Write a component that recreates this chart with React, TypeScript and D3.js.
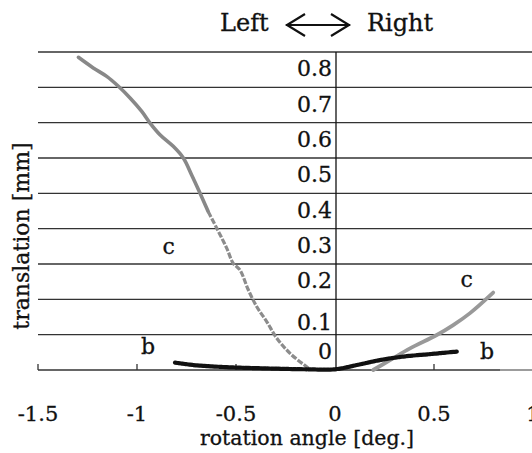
import React from 'react';
import * as d3 from 'd3';

// ---- data ----
const xTicks = [-1.5, -1, -0.5, 0, 0.5, 1];
const yTickLabels = [0, 0.1, 0.2, 0.3, 0.4, 0.5, 0.6, 0.7, 0.8];
const gridValues = [0.1, 0.2, 0.3, 0.4, 0.5, 0.6, 0.7, 0.8, 0.9];

const cLeftX = [-1.296, -1.221, -1.153, -1.094, -1.035, -0.976, -0.934, -0.884, -0.817, -0.766, -0.724, -0.682, -0.64, -0.597, -0.547, -0.514, -0.48, -0.438, -0.395, -0.345, -0.294, -0.227, -0.143, -0.126];
const cLeftY = [0.885, 0.855, 0.831, 0.803, 0.77, 0.732, 0.699, 0.666, 0.633, 0.6, 0.552, 0.501, 0.448, 0.401, 0.345, 0.302, 0.283, 0.227, 0.179, 0.137, 0.09, 0.047, 0.009, 0.002];

const cRightX = [0.193, 0.278, 0.379, 0.514, 0.597, 0.682, 0.799];
const cRightY = [0.0, 0.028, 0.061, 0.099, 0.127, 0.161, 0.219];

const bX = [-0.808, -0.716, -0.547, -0.379, -0.143, 0.0, 0.11, 0.227, 0.345, 0.48, 0.615];
const bY = [0.021, 0.014, 0.008, 0.005, 0.002, 0.002, 0.014, 0.028, 0.038, 0.045, 0.052];

const annotations = [
  { text: 'c', x: -0.84, y: 0.35 },
  { text: 'c', x: 0.665, y: 0.255 },
  { text: 'b', x: -0.944, y: 0.067 },
  { text: 'b', x: 0.768, y: 0.052 },
];

const W = 532;
const H = 453;
const FONT = '"DejaVu Serif", serif';
const INK = '#111';

export default function App() {
  const x = d3.scaleLinear().domain([-1.5, 1]).range([38, 533]);
  const y = d3.scaleLinear().domain([0, 0.9]).range([370, 52]);

  const toPts = (xs: number[], ys: number[]) => xs.map((v, i) => [v, ys[i]] as [number, number]);
  const line = d3
    .line<[number, number]>()
    .x((d) => x(d[0]))
    .y((d) => y(d[1]))
    .curve(d3.curveCatmullRom.alpha(0.5));

  const cLeftPts = toPts(cLeftX, cLeftY);
  const cLeftUpper = line(cLeftPts.slice(0, 13)) || '';
  const cLeftLower = line(cLeftPts.slice(12)) || '';
  const cRight = line(toPts(cRightX, cRightY)) || '';
  const bPath = line(toPts(bX, bY)) || '';

  const x0 = x(0);
  const textProps = { fill: INK, stroke: INK, strokeWidth: 0.3 };

  return (
    <svg
      width={W}
      height={H}
      style={{ position: 'fixed', left: 0, top: 0, background: '#fff' }}
      fontFamily={FONT}
    >
      <rect width={W} height={H} fill="#fff" />
      {/* title */}
      <text x={220} y={31} fontSize={24} {...textProps}>Left</text>
      <text x={367} y={31} fontSize={24} {...textProps}>Right</text>
      <g stroke={INK} strokeWidth={2.2} fill="none">
        <path d="M286,25 H350" />
        <path d="M305,14 L287,25 L305,36" />
        <path d="M331,14 L349,25 L331,36" />
      </g>

      {/* gridlines */}
      {gridValues.map((v) => (
        <line key={v} x1={38} x2={W} y1={y(v)} y2={y(v)} stroke="#333" strokeWidth={1.3} />
      ))}
      {/* x axis */}
      <line x1={38} x2={W} y1={y(0)} y2={y(0)} stroke="#333" strokeWidth={1.4} />
      <line x1={500} x2={W} y1={y(0)} y2={y(0)} stroke="#aaa" strokeWidth={1.6} />
      {xTicks
        .filter((t) => t !== 0)
        .map((t) => (
          <line key={t} x1={x(t)} x2={x(t)} y1={y(0)} y2={y(0) - 6} stroke="#333" strokeWidth={1.3} />
        ))}
      {/* vertical axis */}
      <line x1={x0 + 1} x2={x0 + 1} y1={y(0.9)} y2={y(0)} stroke={INK} strokeWidth={1.3} />

      {/* y tick labels */}
      {yTickLabels.map((v) => (
        <text
          key={v}
          x={332}
          y={y(v) - (v === 0.1 ? 5 : 11)}
          fontSize={22}
          textAnchor="end"
          {...textProps}
        >
          {String(v)}
        </text>
      ))}

      {/* x tick labels */}
      {xTicks.map((t) => (
        <text key={t} x={x(t)} y={421} fontSize={21} textAnchor="middle" {...textProps}>
          {String(t)}
        </text>
      ))}

      {/* axis titles */}
      <text x={307} y={445} fontSize={20.5} textAnchor="middle" {...textProps}>
        rotation angle [deg.]
      </text>
      <text transform="translate(29,236) rotate(-90)" fontSize={22} textAnchor="middle" {...textProps}>
        translation [mm]
      </text>

      {/* data */}
      <path d={cLeftUpper} fill="none" stroke="#888" strokeWidth={3.6} strokeLinecap="round" />
      <path d={cLeftLower} fill="none" stroke="#8c8c8c" strokeWidth={3.2} strokeDasharray="6 1.6" strokeLinecap="butt" />
      <path d={cRight} fill="none" stroke="#999" strokeWidth={3.8} strokeLinecap="round" />
      <path d={bPath} fill="none" stroke={INK} strokeWidth={4.2} strokeDasharray="2.6 1.1" strokeLinecap="round" />

      {/* annotations */}
      {annotations.map((a, i) => (
        <text
          key={i}
          x={x(a.x)}
          y={y(a.y)}
          fontSize={22}
          textAnchor="middle"
          dominantBaseline="central"
          {...textProps}
        >
          {a.text}
        </text>
      ))}
    </svg>
  );
}
